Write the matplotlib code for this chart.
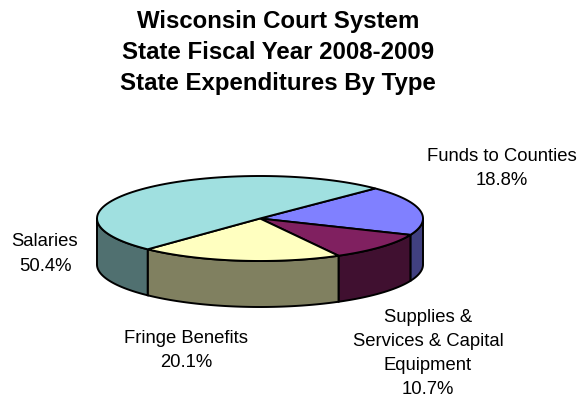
import numpy as np
from matplotlib import pyplot as plt
from matplotlib.patches import Polygon

plt.rcParams['font.family'] = ['Liberation Sans', 'DejaVu Sans']

title = "Wisconsin Court System\nState Fiscal Year 2008-2009\nState Expenditures By Type"
categories = ['Funds to Counties', 'Supplies &\nServices & Capital\nEquipment', 'Fringe Benefits', 'Salaries']
shares = [18.8, 10.7, 20.1, 50.4]
top_colors = ['#8080ff', '#802060', '#ffffc0', '#a0e0e0']
side_colors = ['#404080', '#401030', '#808060', '#507070']

# label anchors in image pixels
label_xy = [(502, 168.5), (428, 353.5), (186, 350.5), (45, 254)]

# ellipse of the pie, image pixels
cx, cy, rx, ry, depth = 260, 218.5, 163, 42.5, 46
start = 45

fig = plt.figure(figsize=[5.85, 4.03], dpi=100)
ax = fig.add_axes([0, 0, 1, 1])
ax.set_xlim(0, 585)
ax.set_ylim(403, 0)
ax.axis('off')


def rim(a, b, dy=0):
    t = np.radians(np.linspace(a, b, 80))
    return np.column_stack([cx + rx*np.cos(t), cy - ry*np.sin(t) + dy])


fracs = np.array(shares)/sum(shares)*360
edges = start - np.concatenate([[0], np.cumsum(fracs)])

# front wall: only the part of each slice below the centre line shows
for i in range(len(shares)):
    hi, lo = edges[i], edges[i+1]
    # angles here run from 45 down to -315, the front is -180..0
    a, b = min(hi, 0), max(lo, -180)
    if a <= b:
        continue
    top = rim(a, b)
    bot = rim(b, a, depth)
    ax.add_patch(Polygon(np.vstack([top, bot]), closed=True, fc=side_colors[i], ec='black', lw=1.4, zorder=2))

# top face
for i in range(len(shares)):
    arc = rim(edges[i], edges[i+1])
    ax.add_patch(Polygon(np.vstack([[cx, cy], arc]), closed=True, fc=top_colors[i], ec='black', lw=1.4, zorder=3))

ax.text(278, 52.5, title, ha='center', va='center', fontsize=17.3, fontweight='bold', linespacing=1.47)

for name, share, xy in zip(categories, shares, label_xy):
    ax.text(xy[0], xy[1], f"{name}\n{share:.1f}%", ha='center', va='center', fontsize=13.3, linespacing=1.56, color='black')

fig.savefig('out.png', dpi=100)
